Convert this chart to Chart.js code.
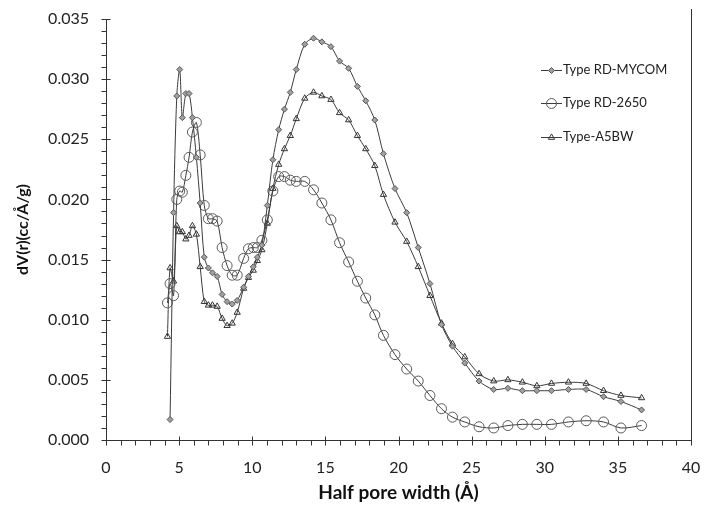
<!DOCTYPE html>
<html>
<head>
<meta charset="utf-8">
<script src="https://cdn.jsdelivr.net/npm/chart.js@4.4.1/dist/chart.umd.min.js"></script>
<style>
  html, body { margin: 0; padding: 0; background: #fff; }
  #wrap { width: 707px; height: 516px; }
</style>
</head>
<body>
<div id="wrap"><canvas id="poreChart" width="707" height="516"></canvas></div>
<script>
// half pore width bins (Å)
const poreWidth = [4.20, 4.38, 4.62, 4.84, 5.04, 5.22, 5.46, 5.68, 5.91, 6.18, 6.44, 6.72, 7.00, 7.28, 7.60, 7.94,
  8.28, 8.63, 8.97, 9.41, 9.74, 10.07, 10.35, 10.66, 11.03, 11.41, 11.81, 12.20, 12.60, 13.01, 13.59, 14.19,
  14.76, 15.38, 15.97, 16.59, 17.19, 17.76, 18.38, 18.97, 19.76, 20.56, 21.35, 22.15, 22.94, 23.69, 24.53,
  25.51, 26.51, 27.48, 28.47, 29.46, 30.46, 31.62, 32.83, 34.02, 35.21, 36.62];

const mycom = [null, 0.0017, 0.0189, 0.0286, 0.0308, 0.0268, 0.0288, 0.0288, 0.0268, 0.0235, 0.0197, 0.0152,
  0.0143, 0.0139, 0.0136, 0.0121, 0.0115, 0.0113, 0.0116, 0.0127, 0.0136, 0.0144, 0.0152, 0.0162, 0.0195,
  0.0233, 0.0258, 0.0275, 0.0289, 0.0308, 0.0329, 0.0334, 0.0331, 0.0327, 0.0315, 0.0309, 0.0294, 0.0282,
  0.0266, 0.0238, 0.0209, 0.0189, 0.0160, 0.0130, 0.0096, 0.0078, 0.0064, 0.0049, 0.0042, 0.0043, 0.0041,
  0.0041, 0.0041, 0.0042, 0.0042, 0.0036, 0.0032, 0.0025];

const rd2650 = [0.0114, 0.0130, 0.0120, 0.0200, 0.0207, 0.0206, 0.0220, 0.0235, 0.0256, 0.0264, 0.0237, 0.0195,
  0.0184, 0.0184, 0.0182, 0.0160, 0.0145, 0.0137, 0.0137, 0.0151, 0.0159, 0.0160, 0.0160, 0.0166, 0.0183,
  0.0207, 0.0219, 0.0219, 0.0216, 0.0215, 0.0215, 0.0208, 0.0197, 0.0183, 0.0164, 0.0148, 0.0132, 0.0118,
  0.0104, 0.0087, 0.0071, 0.0059, 0.0049, 0.0037, 0.0026, 0.0019, 0.0015, 0.0011, 0.0010, 0.0012, 0.0013,
  0.0013, 0.0013, 0.0015, 0.0016, 0.0015, 0.0010, 0.0012];

const a5bw = [0.0086, 0.0143, 0.0132, 0.0178, 0.0173, 0.0173, 0.0167, 0.0170, 0.0178, 0.0171, 0.0144, 0.0115,
  0.0112, 0.0112, 0.0111, 0.0101, 0.0095, 0.0097, 0.0106, 0.0126, 0.0135, 0.0141, 0.0149, 0.0158, 0.0180,
  0.0209, 0.0229, 0.0242, 0.0253, 0.0267, 0.0284, 0.0289, 0.0286, 0.0283, 0.0272, 0.0266, 0.0253, 0.0242,
  0.0228, 0.0204, 0.0181, 0.0165, 0.0144, 0.0120, 0.0097, 0.0080, 0.0069, 0.0055, 0.0049, 0.0050, 0.0048,
  0.0045, 0.0047, 0.0048, 0.0047, 0.0041, 0.0037, 0.0035];

const seriesNames = ['Type RD-MYCOM', 'Type RD-2650', 'Type-A5BW'];
const xTitle = 'Half pore width (Å)';
const yTitle = 'dV(r)(cc/Å/g)';

const FONT = 'Lato, "Open Sans", sans-serif';
const toPoints = (ys) => poreWidth.map((x, i) => ({ x: x, y: ys[i] }));

// axis lines, tick marks, right frame
const axisDecor = {
  id: 'axisDecor',
  beforeDatasetsDraw(chart) {
    const { ctx, chartArea: a, scales: { x, y } } = chart;
    ctx.save();
    ctx.strokeStyle = '#333';
    ctx.lineWidth = 1;
    ctx.beginPath();
    const L = Math.round(a.left) + 0.5, B = Math.round(a.bottom) + 0.5, R = Math.round(a.right) + 0.5;
    ctx.moveTo(L, a.top); ctx.lineTo(L, B); ctx.lineTo(R, B);
    ctx.moveTo(R, a.top - 10); ctx.lineTo(R, B);
    for (let v = 0; v <= 35; v++) {
      const py = Math.round(y.getPixelForValue(v / 1000)) + 0.5;
      ctx.moveTo(L - 5, py); ctx.lineTo(L + (v % 5 === 0 ? 4 : 0), py);
    }
    for (let v = 0; v <= 40; v++) {
      const px = Math.round(x.getPixelForValue(v)) + 0.5;
      ctx.moveTo(px, B + 5); ctx.lineTo(px, B - (v % 5 === 0 ? 4 : 0));
    }
    ctx.stroke();
    ctx.restore();
  }
};

// legend inside plot, top right
const insideLegend = {
  id: 'insideLegend',
  afterDraw(chart) {
    const { ctx } = chart;
    const rows = [70, 103, 137];
    ctx.save();
    chart.data.datasets.forEach((ds, i) => {
      const yy = rows[i];
      ctx.strokeStyle = ds.borderColor;
      ctx.lineWidth = 1;
      ctx.beginPath();
      ctx.moveTo(541, yy + 0.5); ctx.lineTo(562, yy + 0.5);
      ctx.stroke();
      ctx.fillStyle = ds.pointBackgroundColor;
      ctx.strokeStyle = ds.pointBorderColor;
      ctx.lineWidth = 1;
      Chart.helpers.drawPoint(ctx, { pointStyle: ds.pointStyle, radius: ds.pointRadius, borderWidth: 1 }, 551.5, yy + 0.5);
      ctx.fillStyle = '#222';
      ctx.font = '13px ' + FONT;
      ctx.textAlign = 'left';
      ctx.textBaseline = 'middle';
      ctx.fillText(seriesNames[i], 563, yy);
    });
    ctx.restore();
  }
};

// invisible tick marks only used to push the labels away from the axis
const hiddenGrid = (len) => ({ display: true, drawOnChartArea: false, drawTicks: true, tickLength: len, color: 'rgba(0,0,0,0)' });

const ctx = document.getElementById('poreChart');
new Chart(ctx, {
  type: 'line',
  data: {
    datasets: [
      {
        label: seriesNames[0], data: toPoints(mycom),
        borderColor: '#3c3c3c', borderWidth: 1, tension: 0.3,
        pointStyle: 'rectRot', pointRadius: 3, pointBackgroundColor: '#a0a0a0',
        pointBorderColor: '#555', pointBorderWidth: 1
      },
      {
        label: seriesNames[1], data: toPoints(rd2650),
        borderColor: '#3c3c3c', borderWidth: 1, tension: 0.3,
        pointStyle: 'circle', pointRadius: 5, pointBackgroundColor: 'rgba(0,0,0,0)',
        pointBorderColor: '#5a5a5a', pointBorderWidth: 1
      },
      {
        label: seriesNames[2], data: toPoints(a5bw),
        borderColor: '#3c3c3c', borderWidth: 1, tension: 0.3,
        pointStyle: 'triangle', pointRadius: 3.6, pointBackgroundColor: 'rgba(0,0,0,0)',
        pointBorderColor: '#333', pointBorderWidth: 1
      }
    ]
  },
  options: {
    responsive: false,
    devicePixelRatio: 1,
    animation: false,
    spanGaps: false,
    layout: { padding: { left: 0, top: 19, right: 16, bottom: 0 } },
    plugins: { legend: { display: false }, tooltip: { enabled: false } },
    scales: {
      x: {
        type: 'linear', min: 0, max: 40,
        grid: hiddenGrid(18),
        border: { display: false },
        ticks: { stepSize: 5, padding: 0, color: '#222', font: { family: FONT, size: 16 }, maxRotation: 0 },
        title: { display: true, text: xTitle, color: '#111', padding: { top: 0, bottom: 12 },
          font: { family: FONT, size: 19, weight: 'bold' } },
        afterFit: (s) => { s.height = 76; }
      },
      y: {
        type: 'linear', min: 0, max: 0.035,
        grid: hiddenGrid(17),
        border: { display: false },
        ticks: { stepSize: 0.005, padding: 0, color: '#222', font: { family: FONT, size: 16 },
          callback: (v) => v.toFixed(3) },
        title: { display: true, text: yTitle, color: '#111', padding: { top: 13, bottom: 0 },
          font: { family: FONT, size: 16, weight: 'bold' } },
        afterFit: (s) => { s.width = 106; }
      }
    }
  },
  plugins: [axisDecor, insideLegend]
});
</script>
</body>
</html>
